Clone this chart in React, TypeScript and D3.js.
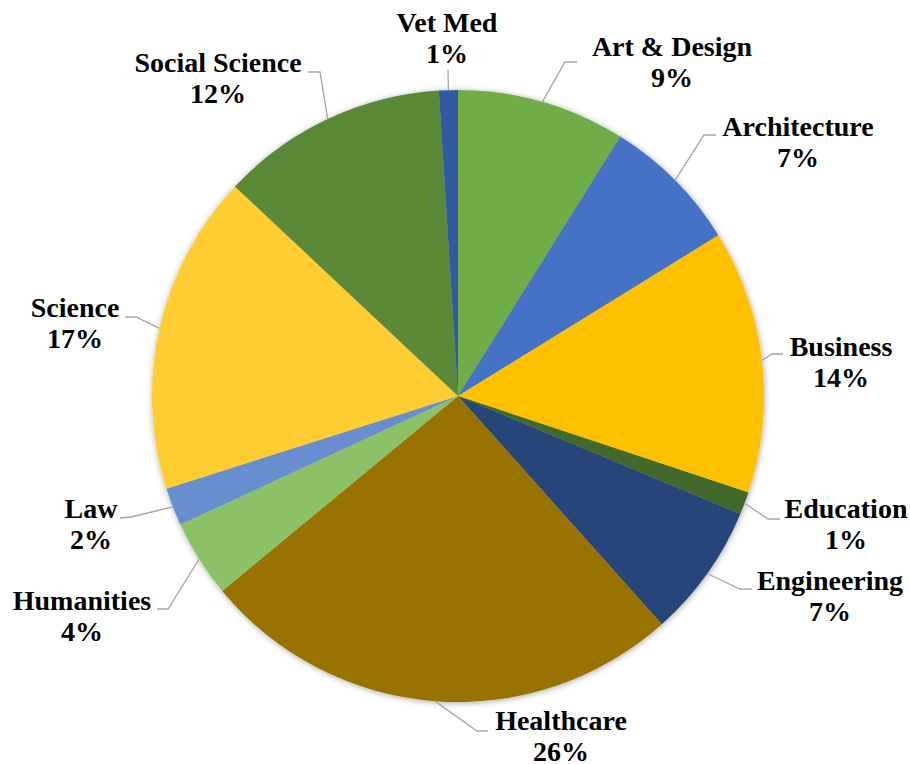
import * as d3 from "d3";

// share of students by field (percent)
const fields = [
  "Art & Design", "Architecture", "Business", "Education", "Engineering",
  "Healthcare", "Humanities", "Law", "Science", "Social Science", "Vet Med",
];
const shares = [8.9, 7.3, 13.9, 1.2, 7.1, 25.6, 4.1, 2.0, 16.9, 12.0, 1.0];
const colors = [
  "#70AD47", "#4472C4", "#FFC000", "#43682B", "#264478",
  "#997300", "#8CC168", "#698ED0", "#FFCD33", "#5A8A39", "#335AA1",
];

// label placement, relative to the pie centre: text centre x, first baseline y,
// leader elbow and leader end
const labelLayout = [
  { tx: 214, ty: -340, ex: 107, ey: -334, lx: 119, ly: -334 },
  { tx: 340, ty: -260, ex: 246, ey: -261, lx: 258, ly: -261 },
  { tx: 383, ty: -40, ex: 314, ey: -42, lx: 325, ly: -42 },
  { tx: 388, ty: 122, ex: 310, ey: 123, lx: 322, ly: 123 },
  { tx: 372, ty: 194, ex: 282, ey: 193, lx: 294, ly: 193 },
  { tx: 103, ty: 334, ex: 19, ey: 335, lx: 30, ly: 335 },
  { tx: -376, ty: 214, ex: -290, ey: 213, lx: -301, ly: 213 },
  { tx: -367, ty: 122, ex: -327, ey: 121, lx: -338, ly: 122 },
  { tx: -383, ty: -79, ex: -322, ey: -79, lx: -333, ly: -79 },
  { tx: -240, ty: -324, ex: -138, ey: -324, lx: -150, ly: -324 },
  { tx: -11, ty: -364, ex: -10, ey: -326, lx: -10, ly: -326 },
];

const W = 910;
const H = 764;
const cx = 458;
const cy = 396;
const R = 306;

export default function App() {
  const total = d3.sum(shares);
  const pie = d3.pie<number>().sort(null).value((d) => d)(shares);
  const arc = d3.arc<d3.PieArcDatum<number>>().innerRadius(0).outerRadius(R);

  return (
    <svg
      width={W}
      height={H}
      style={{ position: "absolute", left: 0, top: 0, background: "#fff" }}
      fontFamily="'Liberation Serif', serif"
    >
      <defs>
        <filter id="shadow" x="-10%" y="-10%" width="120%" height="120%">
          <feDropShadow dx="0.5" dy="1" stdDeviation="3" floodColor="#000" floodOpacity="0.35" />
        </filter>
      </defs>
      <g transform={`translate(${cx},${cy})`}>
        <g filter="url(#shadow)">
          {pie.map((p, i) => (
            <path key={fields[i]} d={arc(p) ?? ""} fill={colors[i]} />
          ))}
        </g>
        {pie.map((p, i) => {
          const mid = (p.startAngle + p.endAngle) / 2;
          const sx = R * Math.sin(mid);
          const sy = -R * Math.cos(mid);
          const L = labelLayout[i];
          return (
            <polyline
              key={"l" + i}
              points={`${sx},${sy} ${L.ex},${L.ey} ${L.lx},${L.ly}`}
              fill="none"
              stroke="#A6A6A6"
              strokeWidth={1.3}
            />
          );
        })}
        {pie.map((p, i) => {
          const L = labelLayout[i];
          const pct = Math.round((p.value / total) * 100) + "%";
          return (
            <text
              key={"t" + i}
              x={L.tx}
              y={L.ty}
              textAnchor="middle"
              fontSize={28}
              fontWeight="bold"
              fill="#000"
            >
              <tspan x={L.tx}>{fields[i]}</tspan>
              <tspan x={L.tx} dy={30.5}>{pct}</tspan>
            </text>
          );
        })}
      </g>
    </svg>
  );
}
